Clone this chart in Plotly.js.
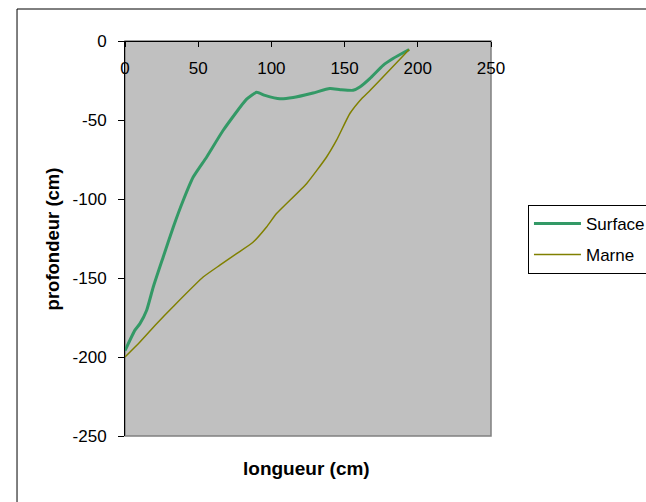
<!DOCTYPE html>
<html><head><meta charset="utf-8">
<script src="https://cdn.plot.ly/plotly-3.0.1.min.js"></script>
<style>html,body{margin:0;padding:0;background:#fff;}#chart{width:646px;height:502px;}</style>
</head><body><div id="chart"></div>
<script>
const surfaceX = [0, 6.8, 10.2, 14.8, 19.3, 26.1, 33, 39.8, 46.6, 55.8, 67.1, 83.1, 89.9, 95.6, 105.8, 114.9, 128.5, 139.9, 147, 155.8, 160.4, 167.2, 176.3, 183.1, 194.1];
const surfaceY = [-196, -183, -178.9, -170.4, -155.7, -136.7, -117.7, -100.8, -86.1, -73.4, -56.5, -36.8, -32.5, -34.4, -36.6, -35.8, -32.9, -30.1, -30.8, -31.2, -29.1, -23.8, -15.4, -11.1, -5.4];
const marneX = [0, 10.2, 21.6, 33, 53.4, 64.8, 76.2, 87.6, 96.7, 103.5, 124, 137.7, 144.5, 153.6, 161.6, 167.2, 174.1, 194.1];
const marneY = [-200, -190.5, -178.9, -168, -149.4, -141.9, -134.6, -127.2, -117.7, -109.2, -90.3, -73.4, -62.8, -45.9, -36.5, -31.5, -24.9, -5.4];
const xTicks = [0, 50, 100, 150, 200, 250];
const yTicks = [0, -50, -100, -150, -200, -250];

const font = 'Liberation Sans, Arial, sans-serif';
const data = [
  {x: surfaceX, y: surfaceY, name: 'Surface', mode: 'lines', legendgroup: 'a',
   line: {color: '#339966', width: 3, shape: 'spline', smoothing: 0.5}},
  {x: marneX, y: marneY, name: 'Marne', mode: 'lines', legendgroup: 'b',
   line: {color: '#808000', width: 1.5, shape: 'spline', smoothing: 0.5}}
];
const layout = {
  width: 646, height: 502,
  margin: {l: 125, r: 155, t: 41, b: 66, autoexpand: false},
  paper_bgcolor: '#ffffff', plot_bgcolor: '#C0C0C0',
  font: {family: font, size: 17, color: '#000'},
  showlegend: true,
  legend: {x: 1.101, y: 0.585, xanchor: 'left', yanchor: 'top', bgcolor: '#fff',
           bordercolor: '#000', borderwidth: 1, font: {family: font, size: 17},
           tracegroupgap: 6, traceorder: 'grouped', itemwidth: 47},
  xaxis: {range: [0, 250], tickvals: xTicks, ticktext: xTicks.map(String),
          anchor: 'free', position: 1, side: 'bottom', showline: true, linecolor: '#000', linewidth: 1,
          ticks: 'outside', ticklen: 5, tickcolor: '#000', showgrid: false, zeroline: false,
          ticklabelstandoff: 7, tickfont: {family: font, size: 17}},
  yaxis: {range: [-250, 0], tickvals: yTicks, ticktext: yTicks.map(String),
          showline: true, linecolor: '#000', linewidth: 1, ticks: 'outside', ticklen: 6,
          tickcolor: '#000', showgrid: false, zeroline: false, ticklabelstandoff: 8,
          tickfont: {family: font, size: 17}},
  shapes: [
    {type: 'rect', xref: 'paper', yref: 'paper', x0: 0, x1: 1, y0: 0, y1: 1,
     line: {color: '#808080', width: 1.5}, layer: 'below'},
    {type: 'rect', xref: 'paper', yref: 'paper', x0: -0.295, x1: 1.6, y0: 1.081, y1: -0.3,
     line: {color: '#000', width: 1}, layer: 'above'}
  ],
  annotations: [
    {text: '<b>longueur (cm)</b>', xref: 'paper', yref: 'paper', x: 0.496, y: -0.083,
     xanchor: 'center', yanchor: 'middle', showarrow: false, font: {family: font, size: 19}},
    {text: '<b>profondeur (cm)</b>', xref: 'paper', yref: 'paper', x: -0.197, y: 0.5,
     xanchor: 'center', yanchor: 'middle', textangle: -90, showarrow: false, font: {family: font, size: 18.5}}
  ]
};
Plotly.newPlot('chart', data, layout, {displayModeBar: false, staticPlot: true});
</script></body></html>
